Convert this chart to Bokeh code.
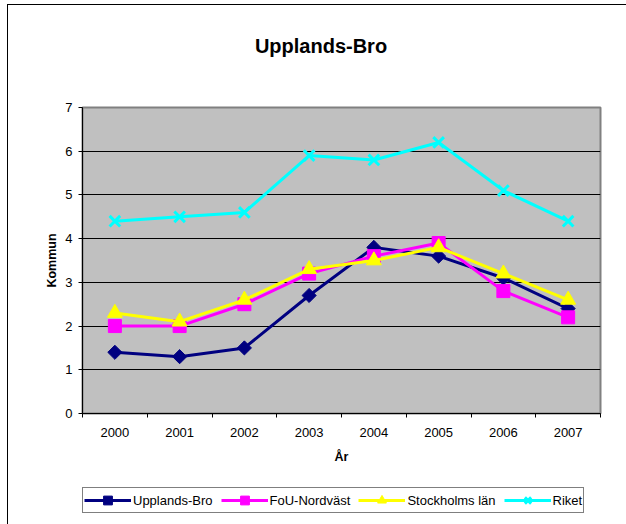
from bokeh.plotting import figure
from bokeh.models import FixedTicker, Legend, LegendItem, Range1d
from bokeh.layouts import column
from bokeh.core.properties import value
from bokeh.embed import file_html
from bokeh.resources import INLINE
import math

years = ["2000", "2001", "2002", "2003", "2004", "2005", "2006", "2007"]
upplands_bro = [1.4, 1.3, 1.5, 2.7, 3.8, 3.6, 3.1, 2.4]
fou_nordvast = [2.0, 2.0, 2.5, 3.2, 3.6, 3.9, 2.8, 2.2]
stockholms_lan = [2.3, 2.1, 2.6, 3.3, 3.5, 3.8, 3.2, 2.6]
riket = [4.4, 4.5, 4.6, 5.9, 5.8, 6.2, 5.1, 4.4]
y_ticks = [0, 1, 2, 3, 4, 5, 6, 7]
chart_title = "Upplands-Bro"

FONT = "Liberation Sans"

xs = [i + 0.5 for i in range(len(years))]

# ---- title strip ----
pt = figure(frame_width=518, frame_height=70, output_backend="svg", toolbar_location=None,
            x_range=Range1d(82, 600), y_range=Range1d(0, 70),
            x_axis_location=None, y_axis_location=None,
            min_border_left=82, min_border_right=26, min_border_top=0, min_border_bottom=0)
pt.xgrid.grid_line_color = None
pt.ygrid.grid_line_color = None
pt.outline_line_color = None
pt.background_fill_alpha = 0
pt.border_fill_alpha = 0
pt.title.visible = False
pt.text(x=[320.5], y=[25], text=[chart_title], text_font=value(FONT),
        text_font_size=value("20px"), text_font_style="bold", text_color="black",
        text_align="center", text_baseline="middle")

# ---- main chart ----
p = figure(frame_width=518, frame_height=306, output_backend="svg", toolbar_location=None,
           x_range=Range1d(0, len(years)), y_range=Range1d(0, 7),
           min_border_left=82, min_border_right=26, min_border_top=37, min_border_bottom=67)
p.title.visible = False

p.background_fill_color = "#C0C0C0"
p.border_fill_alpha = 0
p.outline_line_color = "#808080"
p.outline_line_width = 2

p.xgrid.grid_line_color = None
p.ygrid.grid_line_color = "black"
p.ygrid.grid_line_width = 1
p.ygrid.ticker = FixedTicker(ticks=y_ticks)

xa = p.xaxis[0]
xa.ticker = FixedTicker(ticks=xs, minor_ticks=list(range(len(years) + 1)))
xa.major_label_overrides = {x: y for x, y in zip(xs, years)}
xa.major_tick_line_color = None
xa.major_tick_out = 0
xa.major_tick_in = 0
xa.minor_tick_line_color = "black"
xa.minor_tick_out = 4
xa.minor_tick_in = 0
xa.axis_line_color = "black"
xa.major_label_text_font = FONT
xa.major_label_text_font_size = "13px"
xa.major_label_text_color = "black"
xa.major_label_standoff = 10
xa.axis_label = "År"
xa.axis_label_text_font = FONT
xa.axis_label_text_font_size = "12.5px"
xa.axis_label_text_font_style = "bold"
xa.axis_label_text_color = "black"
xa.axis_label_standoff = 10

ya = p.yaxis[0]
ya.ticker = FixedTicker(ticks=y_ticks)
ya.major_tick_line_color = "black"
ya.major_tick_out = 4
ya.major_tick_in = 0
ya.minor_tick_line_color = None
ya.axis_line_color = "black"
ya.major_label_text_font = FONT
ya.major_label_text_font_size = "13px"
ya.major_label_text_color = "black"
ya.major_label_standoff = 6
ya.axis_label = "Kommun"
ya.axis_label_text_font = FONT
ya.axis_label_text_font_size = "12.5px"
ya.axis_label_text_font_style = "bold"
ya.axis_label_text_color = "black"
ya.axis_label_standoff = 3

series = [
    ("Upplands-Bro", upplands_bro, "#000080", "square", 10, math.pi / 4),
    ("FoU-Nordväst", fou_nordvast, "#FF00FF", "square", 13, 0),
    ("Stockholms län", stockholms_lan, "#FFFF00", "triangle", 15, 0),
    ("Riket", riket, "#00FFFF", "x", 15, 0),
]

# ---- legend strip ----
lg = figure(frame_width=518, frame_height=44, output_backend="svg", toolbar_location=None,
            x_range=Range1d(-20, -19), y_range=Range1d(-20, -19),
            x_axis_location=None, y_axis_location=None,
            min_border_left=82, min_border_right=26, min_border_top=0, min_border_bottom=0)
lg.xgrid.grid_line_color = None
lg.ygrid.grid_line_color = None
lg.outline_line_color = None
lg.background_fill_alpha = 0
lg.border_fill_alpha = 0
lg.title.visible = False

items = []
for name, vals, color, marker, size, angle in series:
    p.line(xs, vals, line_color=color, line_width=3)
    lr = lg.line(xs, vals, line_color=color, line_width=3)
    if marker == "x":
        p.scatter(xs, vals, marker=marker, size=size, line_color=color, line_width=3)
        sr = lg.scatter(xs, vals, marker=marker, size=size, line_color=color, line_width=3)
    else:
        p.scatter(xs, vals, marker=marker, size=size, angle=angle,
                  fill_color=color, line_color=color, line_width=1)
        sr = lg.scatter(xs, vals, marker=marker, size=size, angle=angle,
                        fill_color=color, line_color=color, line_width=1)
    items.append(LegendItem(label=name, renderers=[lr, sr]))

legend = Legend(items=items, orientation="horizontal", location=(0, 11))
legend.label_text_font = FONT
legend.label_text_font_size = "13px"
legend.label_text_color = "black"
legend.glyph_width = 47
legend.glyph_height = 22
legend.label_height = 18
legend.label_standoff = 2
legend.spacing = 8
legend.padding = 1
legend.margin = 0
legend.border_line_color = "black"
legend.border_line_width = 1
legend.background_fill_color = "white"
legend.background_fill_alpha = 1
lg.add_layout(legend, "center")

layout = column(pt, p, lg, spacing=0, styles={
    "background-color": "white",
    "background-image": "linear-gradient(#000, #000), linear-gradient(#000, #000)",
    "background-size": "1px 100%, 100% 1px",
    "background-position": "7px 4px, 7px 4px",
    "background-repeat": "no-repeat",
})

open("out.html", "w").write(file_html(layout, INLINE))
